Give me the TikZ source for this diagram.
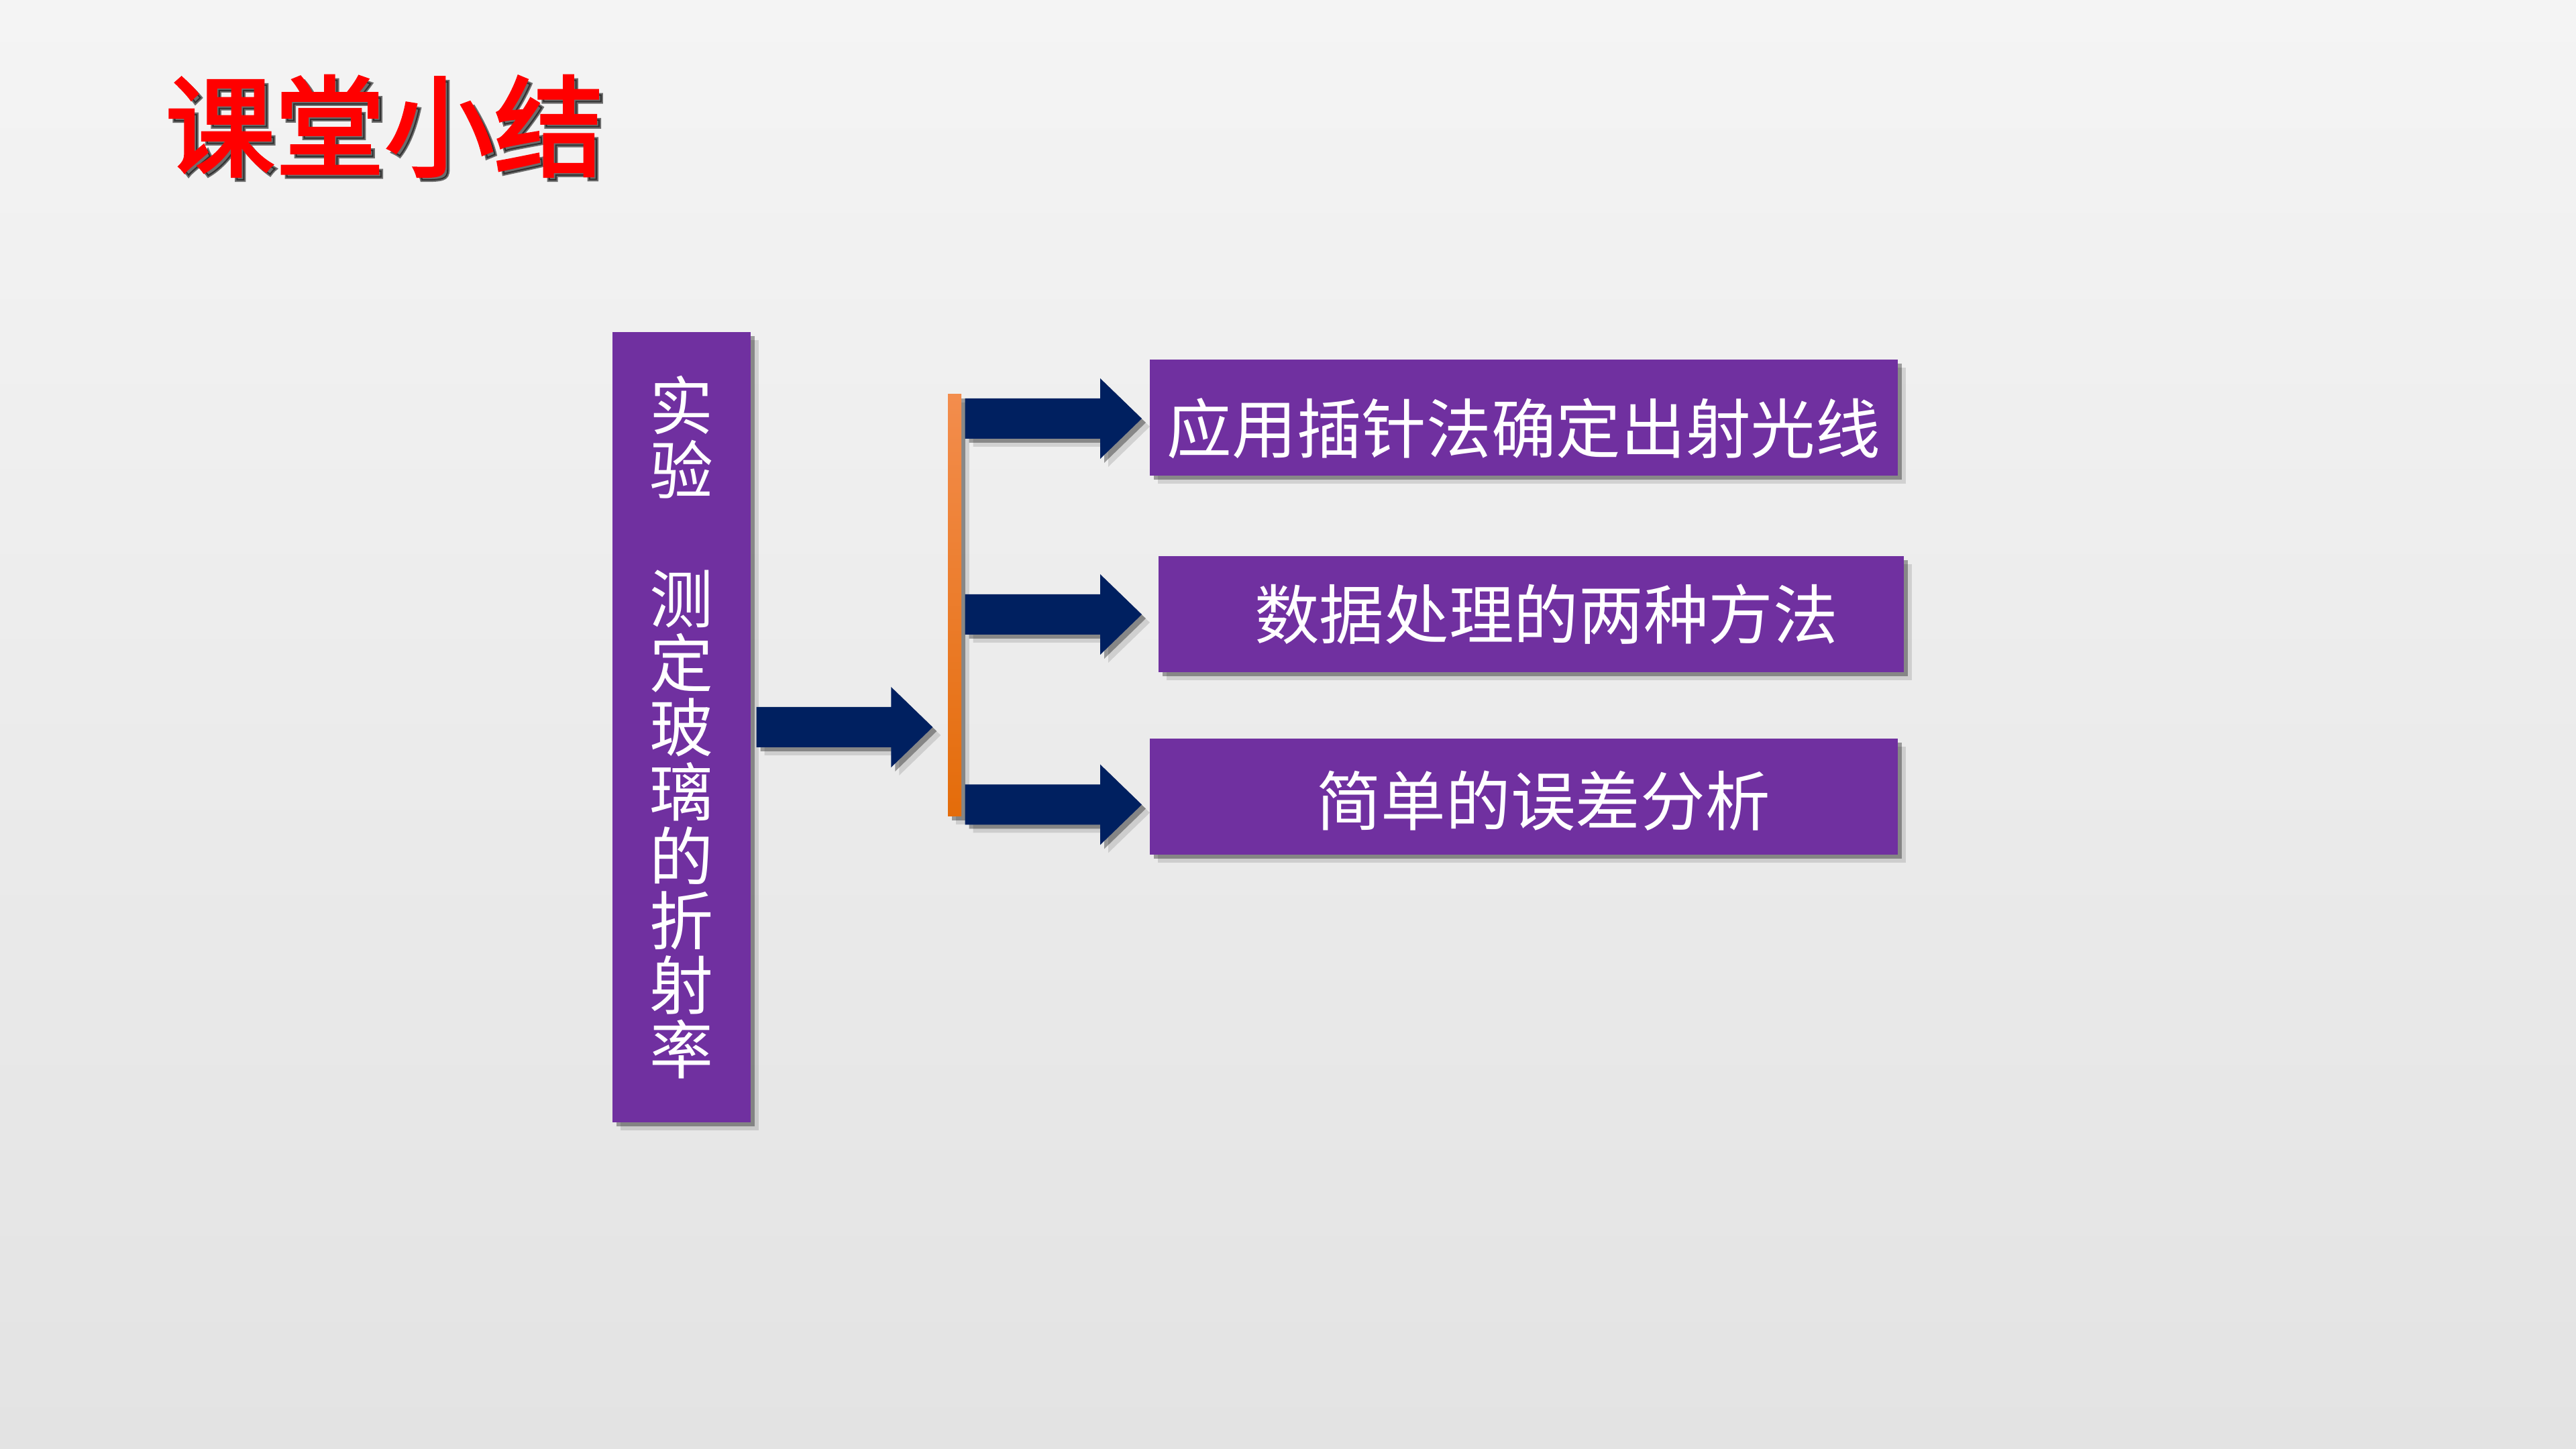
\documentclass[tikz,border=0pt]{standalone}
\usepackage{fontspec}
\newfontfamily\cjk{Noto Sans CJK SC}
\newfontfamily\cjkbold[FakeBold=2.5]{Noto Sans CJK SC}
\usetikzlibrary{calc,shadows}
\definecolor{bgtop}{HTML}{F4F4F4}
\definecolor{bgbot}{HTML}{E3E3E3}
\definecolor{purp}{HTML}{7030A0}
\definecolor{navy}{HTML}{002060}
\definecolor{orA}{HTML}{F38D4D}
\definecolor{orB}{HTML}{E46C0A}
\definecolor{titlered}{HTML}{FF0000}
\tikzset{
  softshadow/.style={
    drop shadow={shadow xshift=0.12cm,shadow yshift=-0.12cm,opacity=0.12,fill=black},
    drop shadow={shadow xshift=0.06cm,shadow yshift=-0.06cm,opacity=0.35,fill=black}},
  purplebox/.style={fill=purp, draw=none, softshadow, text=white, inner sep=0pt,
    font=\cjk\fontsize{27.5pt}{33pt}\selectfont},
  vbox/.style={purplebox, minimum width=2.06cm, minimum height=11.78cm, align=center,
    font=\cjk\fontsize{27pt}{27.3pt}\selectfont},
  hbox/.style={purplebox, minimum height=1.73cm},
  orangebar/.style={top color=orA, bottom color=orB, draw=none, softshadow,
    minimum width=0.2cm, minimum height=6.29cm, inner sep=0pt},
  arrowfill/.style={fill=navy, softshadow},
}
\newcommand{\blockarrow}[2]{%
  \fill[arrowfill] let \p1=(#1), \p2=(#2) in
    (\x1,\y1+0.30cm) -- (\x2-0.62cm,\y1+0.30cm) -- (\x2-0.62cm,\y1+0.60cm) --
    (\x2,\y1) -- (\x2-0.62cm,\y1-0.60cm) -- (\x2-0.62cm,\y1-0.30cm) --
    (\x1,\y1-0.30cm) -- cycle;}
\newcommand{\lowered}[2]{\raisebox{#1}[0pt][0pt]{#2}}
\begin{document}
\begin{tikzpicture}
\useasboundingbox (0,0) rectangle (38.4,21.6);
\shade[top color=bgtop, bottom color=bgbot] (0,0) rectangle (38.4,21.6);

% title
\node[anchor=west, text=black, opacity=0.55, font=\cjkbold\fontsize{46.5pt}{50pt}\selectfont]
  (titleshadow) at (2.40,19.66) {课堂小结};
\node[anchor=west, text=titlered, font=\cjkbold\fontsize{46.5pt}{50pt}\selectfont]
  (title) at (2.34,19.72) {课堂小结};

% main vertical box
\node[vbox] (v) at (10.16,10.76) {实\\验\\\mbox{}\\测\\定\\玻\\璃\\的\\折\\射\\率};

% orange bar
\node[orangebar] (bar) at (14.23,12.575) {};

% right boxes
\node[hbox, minimum width=11.15cm] (b1) at (22.715,15.37) {\lowered{-0.53cm}{应用插针法确定出射光线}};
\node[hbox, minimum width=11.11cm] (b2) at (22.825,12.44) {\hspace*{0.45cm}\lowered{-0.37cm}{数据处理的两种方法}};
\node[hbox, minimum width=11.15cm] (b3) at (22.715,9.725) {\hspace*{0.58cm}\lowered{-0.43cm}{简单的误差分析}};

% connector end points
\coordinate (m0) at ($(v.east)+(0.08,0)$);
\coordinate (mtip) at ($(bar.west |- m0)+(-0.22,0)$);
\coordinate (tipx) at (17.02,0);
\coordinate (s1) at ($(bar.east |- b1.west)+(0.05,-0.01)$);
\coordinate (s2) at ($(bar.east |- b2.west)+(0.05,0)$);
\coordinate (s3) at ($(bar.east |- b3.west)+(0.05,-0.12)$);

\blockarrow{m0}{mtip}
\blockarrow{s1}{tipx |- s1}
\blockarrow{s2}{tipx |- s2}
\blockarrow{s3}{tipx |- s3}
\end{tikzpicture}
\end{document}
